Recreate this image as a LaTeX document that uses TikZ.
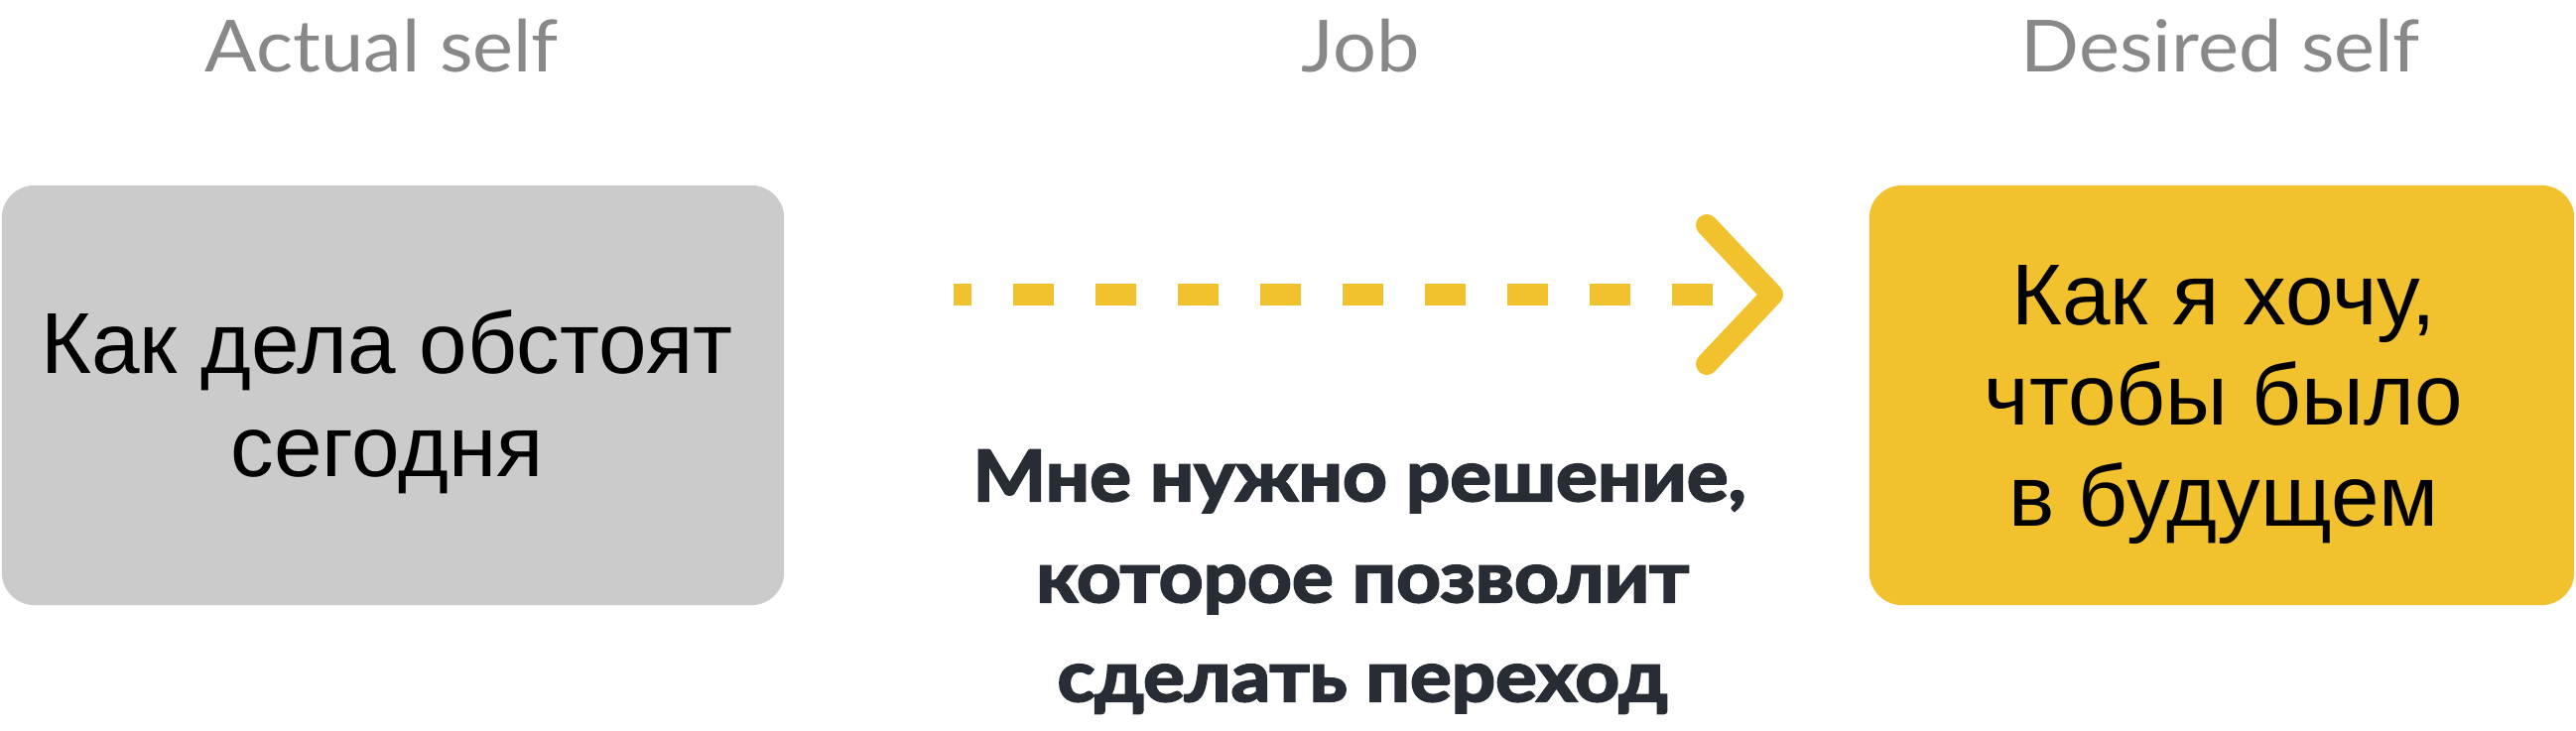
\documentclass[tikz,border=0pt]{standalone}
\usepackage{fontspec}
\setmainfont{Liberation Sans}
\newfontfamily\hdfont[FakeStretch=1.07]{Lato}
\newfontfamily\heavyfont[FakeBold=3,FakeStretch=1.1]{Lato}
\definecolor{boxgray}{HTML}{CBCBCB}
\definecolor{boxyellow}{HTML}{F2C12E}
\definecolor{hdgray}{HTML}{888888}
\definecolor{navy}{HTML}{282C35}
\begin{document}
\begin{tikzpicture}[x=0.01cm,y=-0.01cm,
  card/.style={rectangle, rounded corners=0.33cm, inner sep=0pt, outer sep=0pt},
  hdr/.style={anchor=base, inner sep=0pt, font=\hdfont\fontsize{20.6}{24}\selectfont, text=hdgray},
  boxtxt/.style={anchor=base, inner sep=0pt, font=\fontsize{24.8}{30}\selectfont, text=black},
  heavytxt/.style={anchor=base, inner sep=0pt, font=\heavyfont\bfseries\fontsize{20.2}{24}\selectfont, text=navy},
  dashline/.style={line width=0.21cm, draw=boxyellow, dash pattern=on 0.41cm off 0.42cm, dash phase=0.23cm},
  chevron/.style={line width=0.22cm, draw=boxyellow, line cap=round, line join=round}]
\useasboundingbox (0,0) rectangle (2596,736);
% headers
\node[hdr] (hactual) at (385,72) {Actual self};
\node[hdr] (hjob) at (1371,72) {Job};
\node[hdr] (hdesired) at (2238,72) {Desired self};
% boxes
\node[card, fill=boxgray, minimum width=7.88cm, minimum height=4.23cm] (actual) at (396,398.5) {};
\node[card, fill=boxyellow, minimum width=7.10cm, minimum height=4.23cm] (desired) at (2239,398.5) {};
% box texts
\node[boxtxt] (a1) at (390,376) {Как дела обстоят};
\node[boxtxt] (a2) at (390,480) {сегодня};
\node[boxtxt] (d1) at (2241,327) {Как я хочу,};
\node[boxtxt] (d2) at (2241,428) {чтобы было};
\node[boxtxt] (d3) at (2241,530) {в будущем};
% job text
\node[heavytxt] (j1) at (1370,505) {Мне нужно решение,};
\node[heavytxt] (j2) at (1373,607) {которое позволит};
\node[heavytxt] (j3) at (1373,707) {сделать переход};
% arrow
\coordinate (arrstart) at (961,297);
\coordinate (arrend) at (1727,297);
\coordinate (tip) at (1786,297);
\coordinate (chtop) at (1720,227);
\coordinate (chbot) at (1720,367);
\draw[dashline] (arrstart) -- (arrend);
\draw[chevron] (chtop) -- (tip) -- (chbot);
\end{tikzpicture}
\end{document}
